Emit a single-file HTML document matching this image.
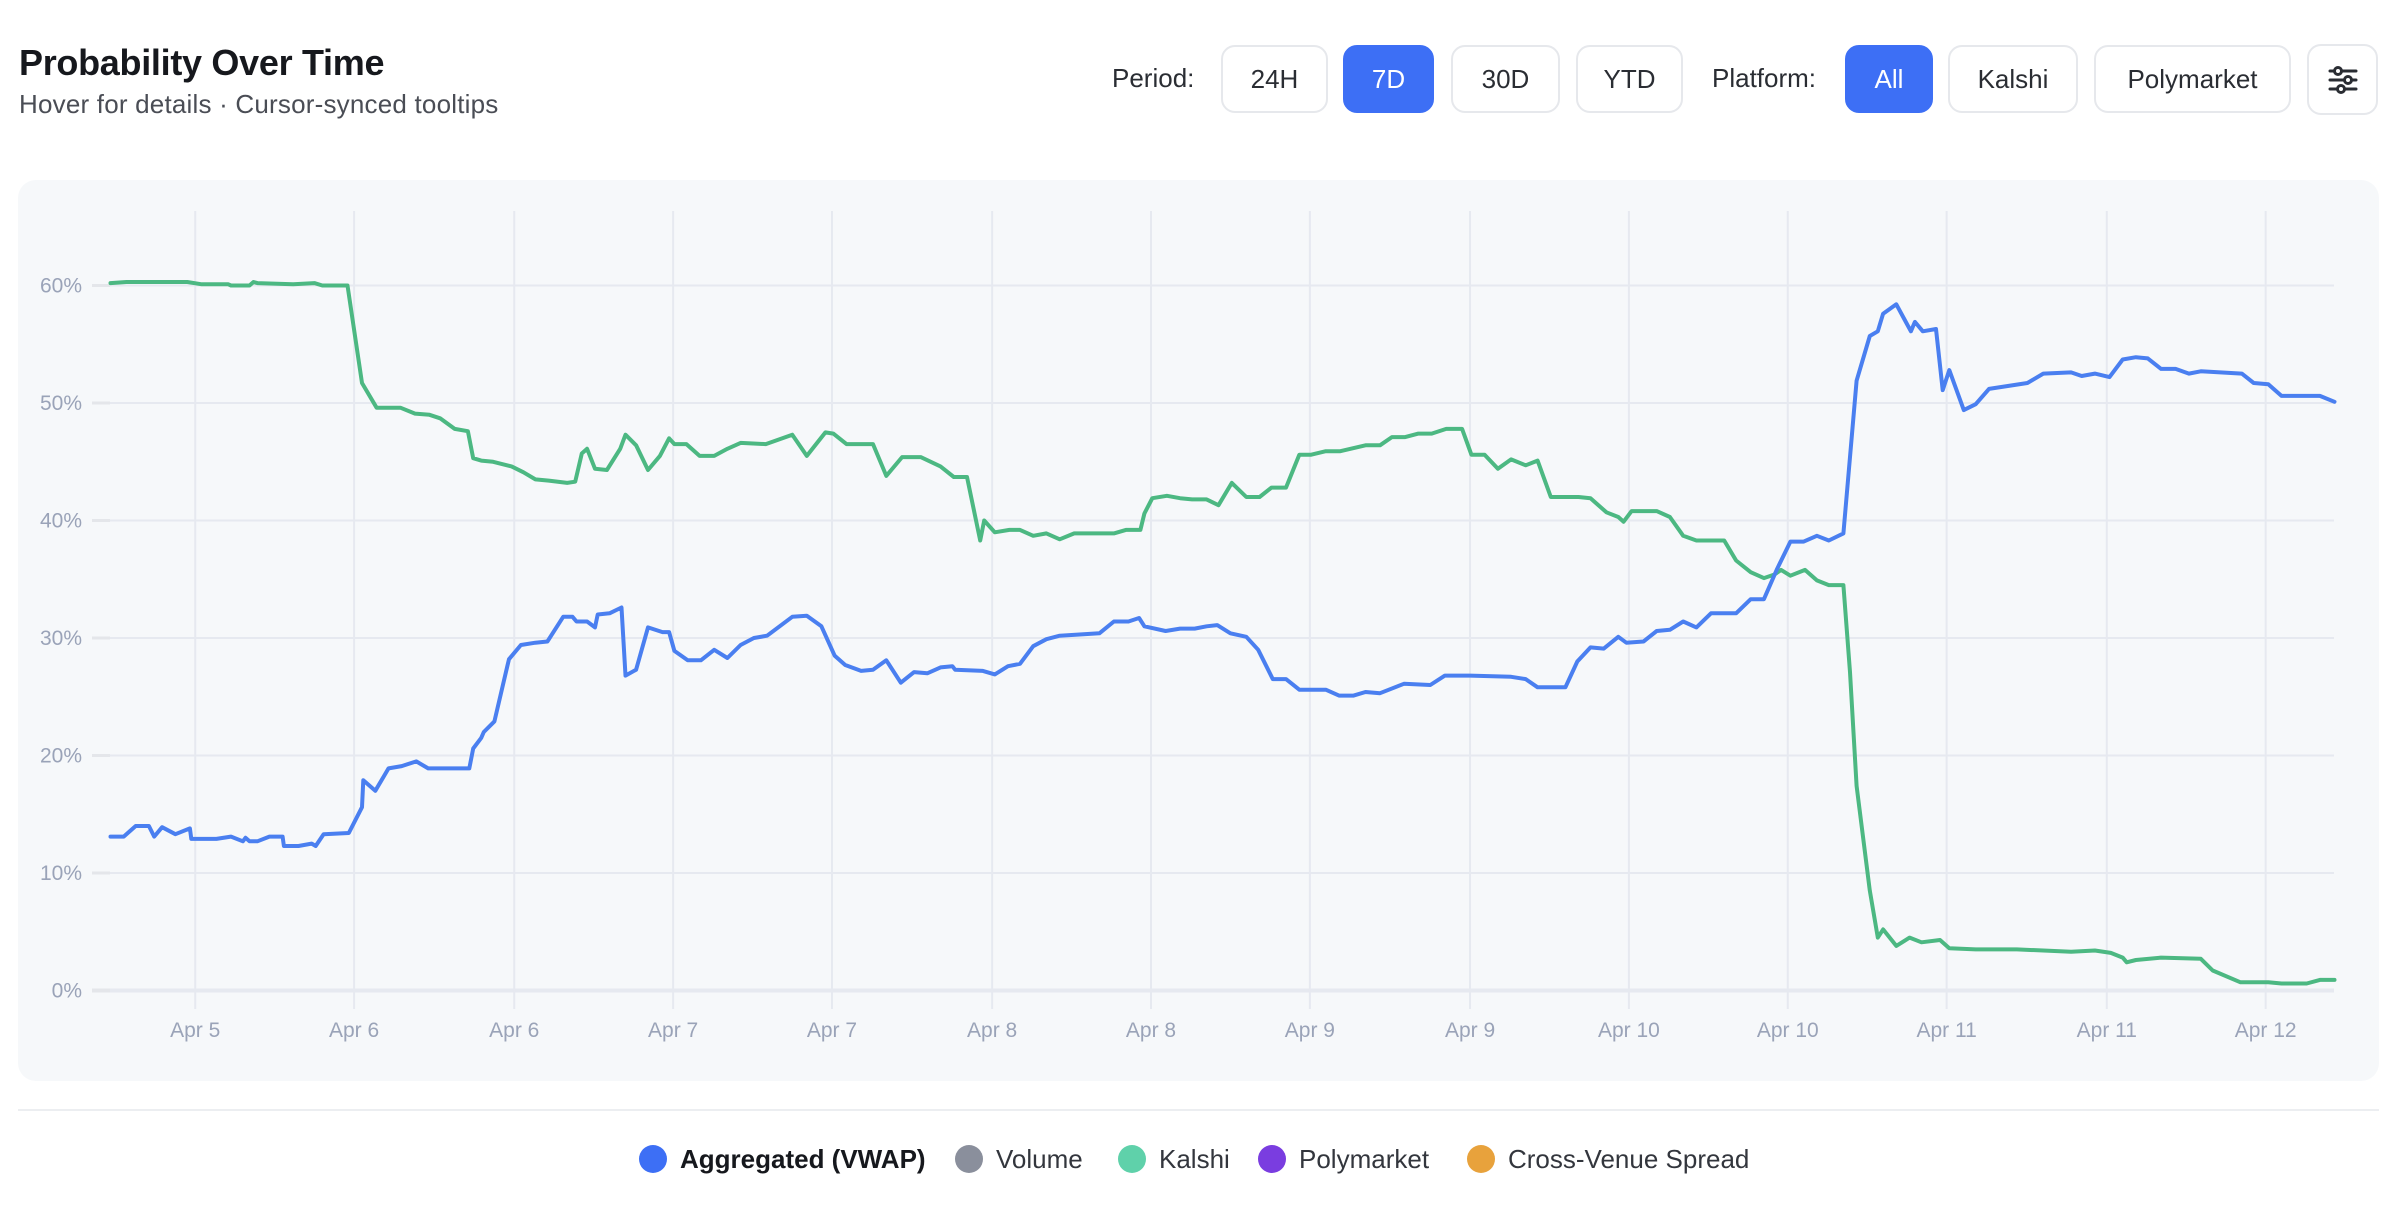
<!DOCTYPE html>
<html><head><meta charset="utf-8"><style>
html,body{margin:0;padding:0;background:#fff;}
body{width:2408px;height:1224px;position:relative;overflow:hidden;font-family:"Liberation Sans",sans-serif;color:#1a1c22;}
.abs{position:absolute;}
#title{left:19px;top:42px;font-size:36px;font-weight:bold;letter-spacing:-0.3px;color:#16181d;white-space:nowrap;}
#subtitle{left:19px;top:89px;font-size:26px;color:#4a4d55;letter-spacing:0.2px;white-space:nowrap;}
.lbl{top:63px;font-size:26px;color:#2a2d33;white-space:nowrap;}
.btn{top:45px;height:68px;box-sizing:border-box;border:2px solid #e6e8ec;border-radius:14px;background:#fff;font-size:26px;color:#2a2d33;display:flex;align-items:center;justify-content:center;}
.btn.on{background:#3d6ff5;border-color:#3d6ff5;color:#fff;}
#panel{left:18px;top:180px;width:2361px;height:901px;background:#f6f8fa;border-radius:18px;}
#sep{left:18px;top:1109px;width:2361px;height:2px;background:#eceef1;}
.leg{top:1144px;height:30px;display:flex;align-items:center;font-size:26px;color:#33363d;white-space:nowrap;}
.dot{width:28px;height:28px;border-radius:50%;margin-right:13px;}
</style></head><body>
<div class="abs" id="title">Probability Over Time</div>
<div class="abs" id="subtitle">Hover for details · Cursor-synced tooltips</div>

<div class="abs lbl" style="left:1112px">Period:</div>
<div class="abs btn" style="left:1221px;width:107px">24H</div>
<div class="abs btn on" style="left:1343px;width:91px">7D</div>
<div class="abs btn" style="left:1451px;width:109px">30D</div>
<div class="abs btn" style="left:1576px;width:107px">YTD</div>
<div class="abs lbl" style="left:1712px">Platform:</div>
<div class="abs btn on" style="left:1845px;width:88px">All</div>
<div class="abs btn" style="left:1948px;width:130px">Kalshi</div>
<div class="abs btn" style="left:2094px;width:197px">Polymarket</div>
<div class="abs btn" style="left:2307px;width:71px;top:44px;height:71px">
<svg width="34" height="30" viewBox="0 0 34 30">
<g stroke="#2a2d33" stroke-width="3" fill="#fff" stroke-linecap="round">
<line x1="4" y1="6" x2="30" y2="6"/><line x1="4" y1="15" x2="30" y2="15"/><line x1="4" y1="24" x2="30" y2="24"/>
<circle cx="12" cy="6" r="3.5"/><circle cx="22" cy="15" r="3.5"/><circle cx="15" cy="24" r="3.5"/></g></svg></div>

<div class="abs" id="panel"></div>
<svg class="abs" id="chart" style="left:0;top:0" width="2408" height="1224"></svg>
<div class="abs" id="sep"></div>

<div class="abs leg" style="left:639px;font-weight:bold;color:#16181d"><span class="dot" style="background:#3d6ff5"></span>Aggregated (VWAP)</div>
<div class="abs leg" style="left:955px"><span class="dot" style="background:#8a8f9c"></span>Volume</div>
<div class="abs leg" style="left:1118px"><span class="dot" style="background:#5fd1aa"></span>Kalshi</div>
<div class="abs leg" style="left:1258px"><span class="dot" style="background:#7a3de0"></span>Polymarket</div>
<div class="abs leg" style="left:1467px"><span class="dot" style="background:#e8a23c"></span>Cross-Venue Spread</div>

<script>
const yTicks = [0, 10, 20, 30, 40, 50, 60];
const xTickHours = [6.4, 18.4, 30.5, 42.5, 54.5, 66.6, 78.6, 90.6, 102.7, 114.7, 126.7, 138.7, 150.8, 162.8];
const xTickLabels = ["Apr 5","Apr 6","Apr 6","Apr 7","Apr 7","Apr 8","Apr 8","Apr 9","Apr 9","Apr 10","Apr 10","Apr 11","Apr 11","Apr 12"];

const aggTimes = [0,1.0,1.9,2.9,3.3,3.9,4.9,6.0,6.1,8.0,
9.1,10.0,10.2,10.5,11.1,12.0,13.0,13.1,14.2,15.2,
15.5,16.1,18.0,19.0,19.1,20.0,21.0,22.0,23.1,24.0,
27.1,27.4,28.0,28.2,29.0,30.0,30.1,31.0,32.1,33.0,
34.2,34.9,35.2,36.0,36.6,36.8,37.7,38.6,38.9,39.7,
40.6,41.7,42.2,42.6,43.6,44.6,45.6,46.6,47.6,48.6,
49.6,51.5,52.6,53.7,54.7,55.5,56.7,57.6,58.6,59.7,
60.7,61.7,62.7,63.6,63.8,65.9,66.8,67.8,68.7,69.7,
70.7,71.7,74.7,75.8,76.9,77.7,78.1,79.7,80.8,81.9,
82.8,83.6,84.6,85.8,86.7,87.8,88.8,89.8,91.8,92.8,
93.9,94.8,95.9,97.7,99.7,100.8,102.7,105.8,106.9,107.8,
109.9,110.8,111.8,112.8,113.9,114.5,115.8,116.8,117.8,118.8,
119.8,120.9,122.8,123.9,124.9,125.9,126.9,127.9,128.9,129.8,
130.9,131.9,132.9,133.5,133.9,134.9,136.0,136.3,136.9,137.9,
138.4,138.9,140.0,140.9,141.9,144.8,146.0,148.1,148.9,149.9,
151.0,152.0,153.0,153.9,154.9,156.0,157.0,157.9,161.0,161.9,
163.0,164.0,166.9,168.0];
const aggValues = [13.1,13.1,14.0,14.0,13.1,13.9,13.3,13.8,12.9,12.9,
13.1,12.7,13.0,12.7,12.7,13.1,13.1,12.3,12.3,12.5,
12.3,13.3,13.4,15.6,17.9,17.0,18.9,19.1,19.5,18.9,
18.9,20.6,21.5,22.0,22.9,27.7,28.2,29.4,29.6,29.7,
31.8,31.8,31.4,31.4,30.9,32.0,32.1,32.6,26.8,27.3,
30.9,30.5,30.5,28.9,28.1,28.1,29.0,28.3,29.4,30.0,
30.2,31.8,31.9,31.0,28.5,27.7,27.2,27.3,28.1,26.2,
27.1,27.0,27.5,27.6,27.3,27.2,26.9,27.6,27.8,29.3,
29.9,30.2,30.4,31.4,31.4,31.7,31.0,30.6,30.8,30.8,
31.0,31.1,30.4,30.1,29.0,26.5,26.5,25.6,25.6,25.1,
25.1,25.4,25.3,26.1,26.0,26.8,26.8,26.7,26.5,25.8,
25.8,28.0,29.2,29.1,30.1,29.6,29.7,30.6,30.7,31.4,
30.9,32.1,32.1,33.3,33.3,35.9,38.2,38.2,38.7,38.3,
38.9,51.9,55.7,56.1,57.6,58.4,56.1,56.9,56.1,56.3,
51.1,52.8,49.4,49.9,51.2,51.7,52.5,52.6,52.3,52.5,
52.2,53.7,53.9,53.8,52.9,52.9,52.5,52.7,52.5,51.7,
51.6,50.6,50.6,50.1];

const kalshiTimes = [0,1.2,5.8,6.9,8.9,9.1,10.5,10.8,11.1,13.8,
15.4,16.0,17.9,19.0,20.1,21.9,23.0,24.1,24.9,26.0,
27.0,27.4,28.0,28.9,30.3,31.2,32.1,33.1,34.5,35.1,
35.6,36.0,36.6,37.5,38.5,38.9,39.7,40.6,41.5,42.2,
42.6,43.5,44.5,45.6,46.6,47.6,49.5,51.5,52.6,54.0,
54.6,55.6,57.6,58.6,59.8,61.2,62.7,63.7,64.7,65.7,
66.0,66.8,67.9,68.7,69.7,70.7,71.7,72.8,75.8,76.7,
77.8,78.1,78.7,79.8,80.8,81.7,82.8,83.7,84.7,85.8,
86.8,87.7,88.8,89.8,90.7,91.8,92.9,94.8,95.9,96.8,
97.8,98.8,99.8,100.9,102.1,102.8,103.8,104.8,105.8,106.9,
107.8,108.8,110.9,111.8,113.0,113.9,114.3,114.9,116.8,117.8,
118.8,119.8,121.9,122.8,123.9,124.9,125.7,126.2,126.9,128.0,
128.9,129.8,130.9,131.4,131.9,132.9,133.5,133.9,134.9,135.9,
136.8,138.2,138.9,140.9,144.0,146.0,148.1,149.9,151.1,152.0,
152.3,153.0,154.9,157.9,158.8,160.9,163.0,164.0,165.9,166.9,
168.0];
const kalshiValues = [60.2,60.3,60.3,60.1,60.1,60.0,60.0,60.3,60.2,60.1,
60.2,60.0,60.0,51.7,49.6,49.6,49.1,49.0,48.7,47.8,
47.6,45.3,45.1,45.0,44.6,44.1,43.5,43.4,43.2,43.3,
45.7,46.1,44.4,44.3,46.1,47.3,46.4,44.3,45.5,47.0,
46.5,46.5,45.5,45.5,46.1,46.6,46.5,47.3,45.5,47.5,
47.4,46.5,46.5,43.8,45.4,45.4,44.6,43.7,43.7,38.3,
40.0,39.0,39.2,39.2,38.7,38.9,38.4,38.9,38.9,39.2,
39.2,40.6,41.9,42.1,41.9,41.8,41.8,41.3,43.2,42.0,
42.0,42.8,42.8,45.6,45.6,45.9,45.9,46.4,46.4,47.1,
47.1,47.4,47.4,47.8,47.8,45.6,45.6,44.4,45.2,44.7,
45.1,42.0,42.0,41.9,40.7,40.3,39.9,40.8,40.8,40.3,
38.7,38.3,38.3,36.6,35.6,35.1,35.4,35.8,35.3,35.8,
34.9,34.5,34.5,27.1,17.4,8.5,4.5,5.2,3.8,4.5,
4.1,4.3,3.6,3.5,3.5,3.4,3.3,3.4,3.2,2.8,
2.4,2.6,2.8,2.7,1.7,0.7,0.7,0.6,0.6,0.9,
0.9];

const NS = "http://www.w3.org/2000/svg";
const svg = document.getElementById("chart");
const X0 = 110.5, XSPAN = 2224, HMAX = 168;
const Y0 = 990.5, YPX = 11.75;
function xScale(h){ return X0 + h * XSPAN / HMAX; }
function yScale(v){ return Y0 - v * YPX; }
function mk(tag, attrs){ const e = document.createElementNS(NS, tag); for (const k in attrs) e.setAttribute(k, attrs[k]); svg.appendChild(e); return e; }

yTicks.forEach(function(v){
  const y = yScale(v);
  const g = mk("line", {x1: 110, x2: 2334, y1: y, y2: y, stroke: "#e6e9f0", "stroke-width": v === 0 ? 4 : 2});
  
  
  const s = mk("line", {x1: 92, x2: 110, y1: y, y2: y, stroke: "#e4e6ea", "stroke-width": v === 0 ? 4 : 3});
  
  
  const t = mk("text", {x: 82, y: y + 7, "text-anchor": "end", "font-size": 21, fill: "#9aa3b8", "font-family": "Liberation Sans, sans-serif"});
  t.textContent = v + "%";
  
  
});
xTickHours.forEach(function(h, i){
  const x = xScale(h);
  const g = mk("line", {x1: x, x2: x, y1: 211, y2: 1009, stroke: "#e6e9f0", "stroke-width": 2});
  
  
  const t = mk("text", {x: x, y: 1037, "text-anchor": "middle", "font-size": 21, fill: "#9aa3b8", "font-family": "Liberation Sans, sans-serif"});
  t.textContent = xTickLabels[i];
  
  
});
function drawLine(times, vals, color, name){
  const d = times.map(function(h, i){ return (i ? "L" : "M") + xScale(h).toFixed(1) + "," + yScale(vals[i]).toFixed(1); }).join("");
  const p = mk("path", {d: d, fill: "none", stroke: color, "stroke-width": 4, "stroke-linejoin": "round", "stroke-linecap": "round"});
  
  
}
drawLine(kalshiTimes, kalshiValues, "#4cb882", "kalshi-line");
drawLine(aggTimes, aggValues, "#4a7ff0", "aggregated-vwap-line");
</script>
</body></html>
